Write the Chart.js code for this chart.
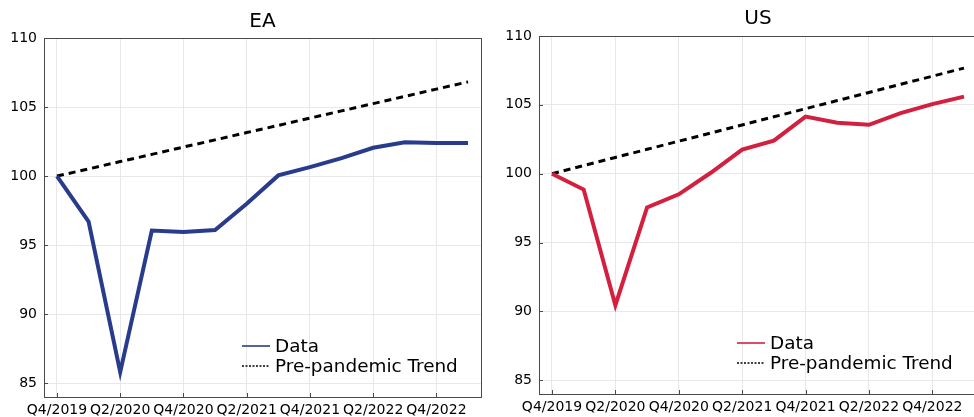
<!DOCTYPE html>
<html>
<head>
<meta charset="utf-8">
<script src="https://cdn.jsdelivr.net/npm/chart.js@4.4.1/dist/chart.umd.min.js"></script>
<style>
    body { margin: 0; width: 974px; height: 417px; overflow: hidden; background: #fff; position: relative; }
    canvas { position: absolute; top: 0; }
    #eaChart { left: 0; }
    #usChart { left: 487px; }
</style>
</head>
<body>
<canvas id="eaChart" width="487" height="417"></canvas>
<canvas id="usChart" width="500" height="417"></canvas>
<script>
// Quarters on the x axis (index 0 = Q4/2019)
const quarters = ['Q4/2019', 'Q1/2020', 'Q2/2020', 'Q3/2020', 'Q4/2020', 'Q1/2021', 'Q2/2021',
    'Q3/2021', 'Q4/2021', 'Q1/2022', 'Q2/2022', 'Q3/2022', 'Q4/2022', 'Q1/2023'];
const xTickIdx = [0, 2, 4, 6, 8, 10, 12];
const yTicks = [85, 90, 95, 100, 105, 110];

// Euro area
const eaData = [100, 96.7, 85.8, 96.05, 95.95, 96.1, 98.0, 100.05, 100.65, 101.3, 102.05, 102.45, 102.4, 102.4];
const eaTrend = [100, 100.52, 101.05, 101.57, 102.1, 102.62, 103.15, 103.67, 104.2, 104.72, 105.25, 105.77, 106.3, 106.82];

// United States
const usData = [100, 98.85, 90.45, 97.55, 98.5, 100.05, 101.75, 102.4, 104.15, 103.7, 103.55, 104.4, 105.05, 105.6];
const usTrend = [100, 100.59, 101.18, 101.77, 102.36, 102.95, 103.54, 104.13, 104.72, 105.31, 105.9, 106.49, 107.08, 107.67];

const FONT = '"DejaVu Sans", sans-serif';

// title, frame, inner ticks and legend drawn in the Plots.jl style
const panelPlugin = {
    id: 'panel',
    afterDraw(chart, args, opts) {
        const ctx = chart.ctx;
        const a = chart.chartArea;
        ctx.save();

        // frame
        ctx.strokeStyle = '#4a4a4a';
        ctx.lineWidth = 1;
        ctx.strokeRect(Math.round(a.left) + 0.5, Math.round(a.top) + 0.5,
            Math.round(a.right - a.left), Math.round(a.bottom - a.top));

        // small inside ticks
        ctx.beginPath();
        chart.scales.x.ticks.forEach(t => {
            const px = Math.round(chart.scales.x.getPixelForValue(t.value)) + 0.5;
            ctx.moveTo(px, a.bottom);
            ctx.lineTo(px, a.bottom - 4);
        });
        chart.scales.y.ticks.forEach(t => {
            const py = Math.round(chart.scales.y.getPixelForValue(t.value)) + 0.5;
            ctx.moveTo(a.left, py);
            ctx.lineTo(a.left + 4, py);
        });
        ctx.stroke();

        // title
        ctx.fillStyle = '#000';
        ctx.font = '20px ' + FONT;
        ctx.textAlign = 'center';
        ctx.textBaseline = 'alphabetic';
        ctx.fillText(opts.title, (a.left + a.right) / 2, opts.titleY);

        // legend
        ctx.textAlign = 'left';
        ctx.textBaseline = 'middle';
        ctx.font = '18.4px ' + FONT;
        chart.data.datasets.forEach((ds, i) => {
            const x0 = a.left + 198;
            const y = a.bottom - 51 + i * 20;
            ctx.strokeStyle = ds.borderColor;
            ctx.lineWidth = ds.borderDash ? 1.3 : 1.6;
            ctx.setLineDash(ds.borderDash ? [2, 1.5] : []);
            ctx.beginPath();
            ctx.moveTo(x0, y);
            ctx.lineTo(x0 + 28, y);
            ctx.stroke();
            ctx.setLineDash([]);
            ctx.fillStyle = '#000';
            ctx.fillText(ds.label, x0 + 33, y + 1);
        });
        ctx.restore();
    }
};

function makePanel(canvasId, title, values, trend, color, layout) {
    const ctx = document.getElementById(canvasId).getContext('2d');
    return new Chart(ctx, {
        type: 'line',
        data: {
            datasets: [{
                label: 'Data',
                data: values.map((v, i) => ({ x: i, y: v })),
                borderColor: color,
                borderWidth: 4,
                pointRadius: 0,
                tension: 0
            }, {
                label: 'Pre-pandemic Trend',
                data: trend.map((v, i) => ({ x: i, y: v })),
                borderColor: '#000000',
                borderWidth: 3,
                borderDash: [7, 5],
                pointRadius: 0,
                tension: 0
            }]
        },
        plugins: [panelPlugin],
        options: {
            responsive: false,
            animation: false,
            layout: { padding: { top: layout.top, right: layout.right, left: 0, bottom: 0 } },
            plugins: {
                legend: { display: false },
                tooltip: { enabled: false },
                title: { display: false },
                panel: { title: title, titleY: layout.titleY }
            },
            scales: {
                x: {
                    type: 'linear',
                    min: -0.41,
                    max: 13.41,
                    afterBuildTicks: s => { s.ticks = xTickIdx.map(v => ({ value: v })); },
                    afterFit: s => { s.height = layout.xHeight; },
                    border: { display: false },
                    grid: { color: '#e8e8e8', lineWidth: 1, drawTicks: false },
                    ticks: {
                        padding: 5,
                        maxRotation: 0,
                        autoSkip: false,
                        color: '#000',
                        font: { family: FONT, size: 14 },
                        callback: v => quarters[v]
                    }
                },
                y: {
                    min: 84,
                    max: 110,
                    afterBuildTicks: s => { s.ticks = yTicks.map(v => ({ value: v })); },
                    afterFit: s => { s.width = layout.yWidth; },
                    border: { display: false },
                    grid: { color: '#e8e8e8', lineWidth: 1, drawTicks: false },
                    ticks: {
                        padding: 7,
                        color: '#000',
                        font: { family: FONT, size: 14 }
                    }
                }
            }
        }
    });
}

makePanel('eaChart', 'EA', eaData, eaTrend, '#283b8c',
    { top: 38, right: 6, yWidth: 44, xHeight: 20, titleY: 27 });
makePanel('usChart', 'US', usData, usTrend, '#d3203f',
    { top: 36, right: 10, yWidth: 52, xHeight: 23, titleY: 24 });
</script>
</body>
</html>
